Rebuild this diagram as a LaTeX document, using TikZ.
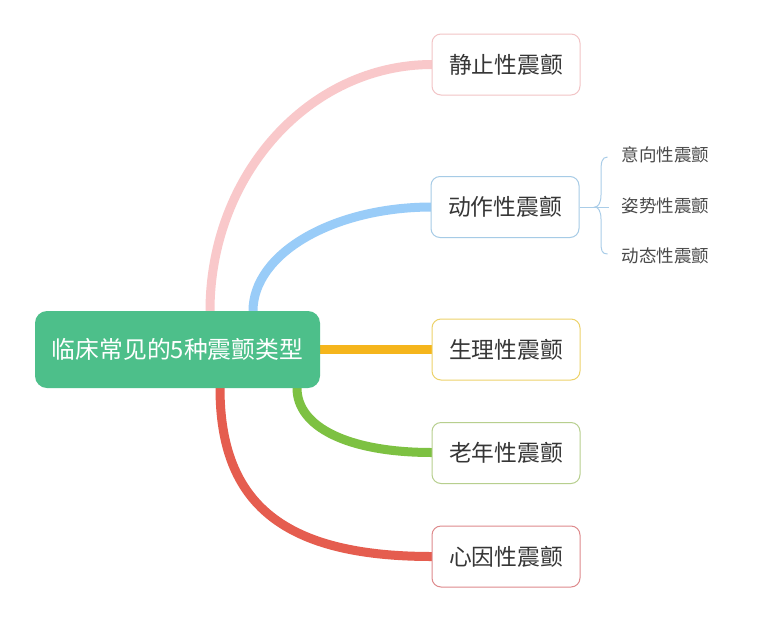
\documentclass[tikz,border=0pt]{standalone}
\usepackage{fontspec}
\setmainfont{Noto Sans CJK SC}
\usetikzlibrary{calc}
\definecolor{rootgreen}{HTML}{4DBF8A}
\definecolor{cpink}{HTML}{F9C8CA}
\definecolor{cblue}{HTML}{99CCF8}
\definecolor{cyellow}{HTML}{F5B51C}
\definecolor{cgreen}{HTML}{7DC142}
\definecolor{cred}{HTML}{E55D4F}
\definecolor{bpink}{HTML}{F2C4C6}
\definecolor{bblue}{HTML}{A6CBE6}
\definecolor{byellow}{HTML}{EDD26A}
\definecolor{bgreen}{HTML}{B7CF8E}
\definecolor{bred}{HTML}{DE8A8C}
\definecolor{txt}{HTML}{363636}
\definecolor{subtxt}{HTML}{4A4A4A}
\definecolor{brace}{HTML}{AACDE8}
\tikzset{
  rootbox/.style={fill=rootgreen, draw=none, rounded corners=12pt, minimum width=285pt, minimum height=77pt, text=white, font=\fontsize{23.8}{26}\selectfont, inner sep=0pt},
  topicbox/.style={fill=white, rounded corners=9pt, line width=1pt, minimum width=148pt, minimum height=61pt, text=txt, font=\fontsize{22.8}{26}\selectfont, inner sep=0pt},
  subtopic/.style={text=subtxt, font=\fontsize{17.5}{20}\selectfont, inner sep=0pt},
  branch/.style={line width=9pt},
  bracel/.style={draw=brace, line width=1pt}
}
\begin{document}
\begin{tikzpicture}[x=1pt,y=-1pt]
\useasboundingbox[fill=white] (0,0) rectangle (761,622);
% coordinates for branch starts (inside the root box)
\coordinate (sp) at (210,330);
\coordinate (sb) at (253,330);
\coordinate (sy) at (300,349.5);
\coordinate (sg) at (297,370);
\coordinate (sr) at (220,370);
\coordinate (e1) at (440,64.5);
\coordinate (e2) at (440,207);
\coordinate (e3) at (440,349.5);
\coordinate (e4) at (440,452.5);
\coordinate (e5) at (440,556.5);
% branches (drawn first, behind the nodes)
\draw[branch, cpink] (sp) -- (210,311) .. controls (210,174.6) and (309.5,64.5) .. (432,64.5) -- (e1);
\draw[branch, cblue] (sb) -- (253,311) .. controls (253,253.6) and (333,207) .. (432,207) -- (e2);
\draw[branch, cyellow] (sy) -- (e3);
\draw[branch, cgreen] (sg) -- (297,388) .. controls (297,427) and (348,452.5) .. (432,452.5) -- (e4);
\draw[branch, cred] (sr) -- (220,388) .. controls (220,505) and (285,556.5) .. (432,556.5) -- (e5);
% nodes
\node[rootbox] (root) at (177.5,349.5) {临床常见的5种震颤类型};
\node[topicbox, draw=bpink] (b1) at (506,64.5) {静止性震颤};
\node[topicbox, draw=bblue] (b2) at (505,207) {动作性震颤};
\node[topicbox, draw=byellow] (b3) at (506,349.5) {生理性震颤};
\node[topicbox, draw=bgreen] (b4) at (506,453) {老年性震颤};
\node[topicbox, draw=bred] (b5) at (506,556.5) {心因性震颤};
\node[subtopic] (s1) at (665.5,155) {意向性震颤};
\node[subtopic] (s2) at (665.5,206) {姿势性震颤};
\node[subtopic] (s3) at (665.5,256) {动态性震颤};
% brace
\coordinate (t1) at ($(s1.west)+(-14,2)$);
\coordinate (t3) at ($(s3.west)+(-14,-2)$);
\coordinate (tm) at ($(s2.west)+(-13,1)$);
\draw[bracel] (b2.east) -- (tm);
\draw[bracel] (t1) .. controls +(-6,0) and (601,163) .. (601,172) -- (601,195) .. controls (601,203) and (598,207) .. (595,207)
  .. controls (598,207) and (601,211) .. (601,219) -- (601,242) .. controls (601,250) and +(-6,0) .. (t3);
\end{tikzpicture}
\end{document}
